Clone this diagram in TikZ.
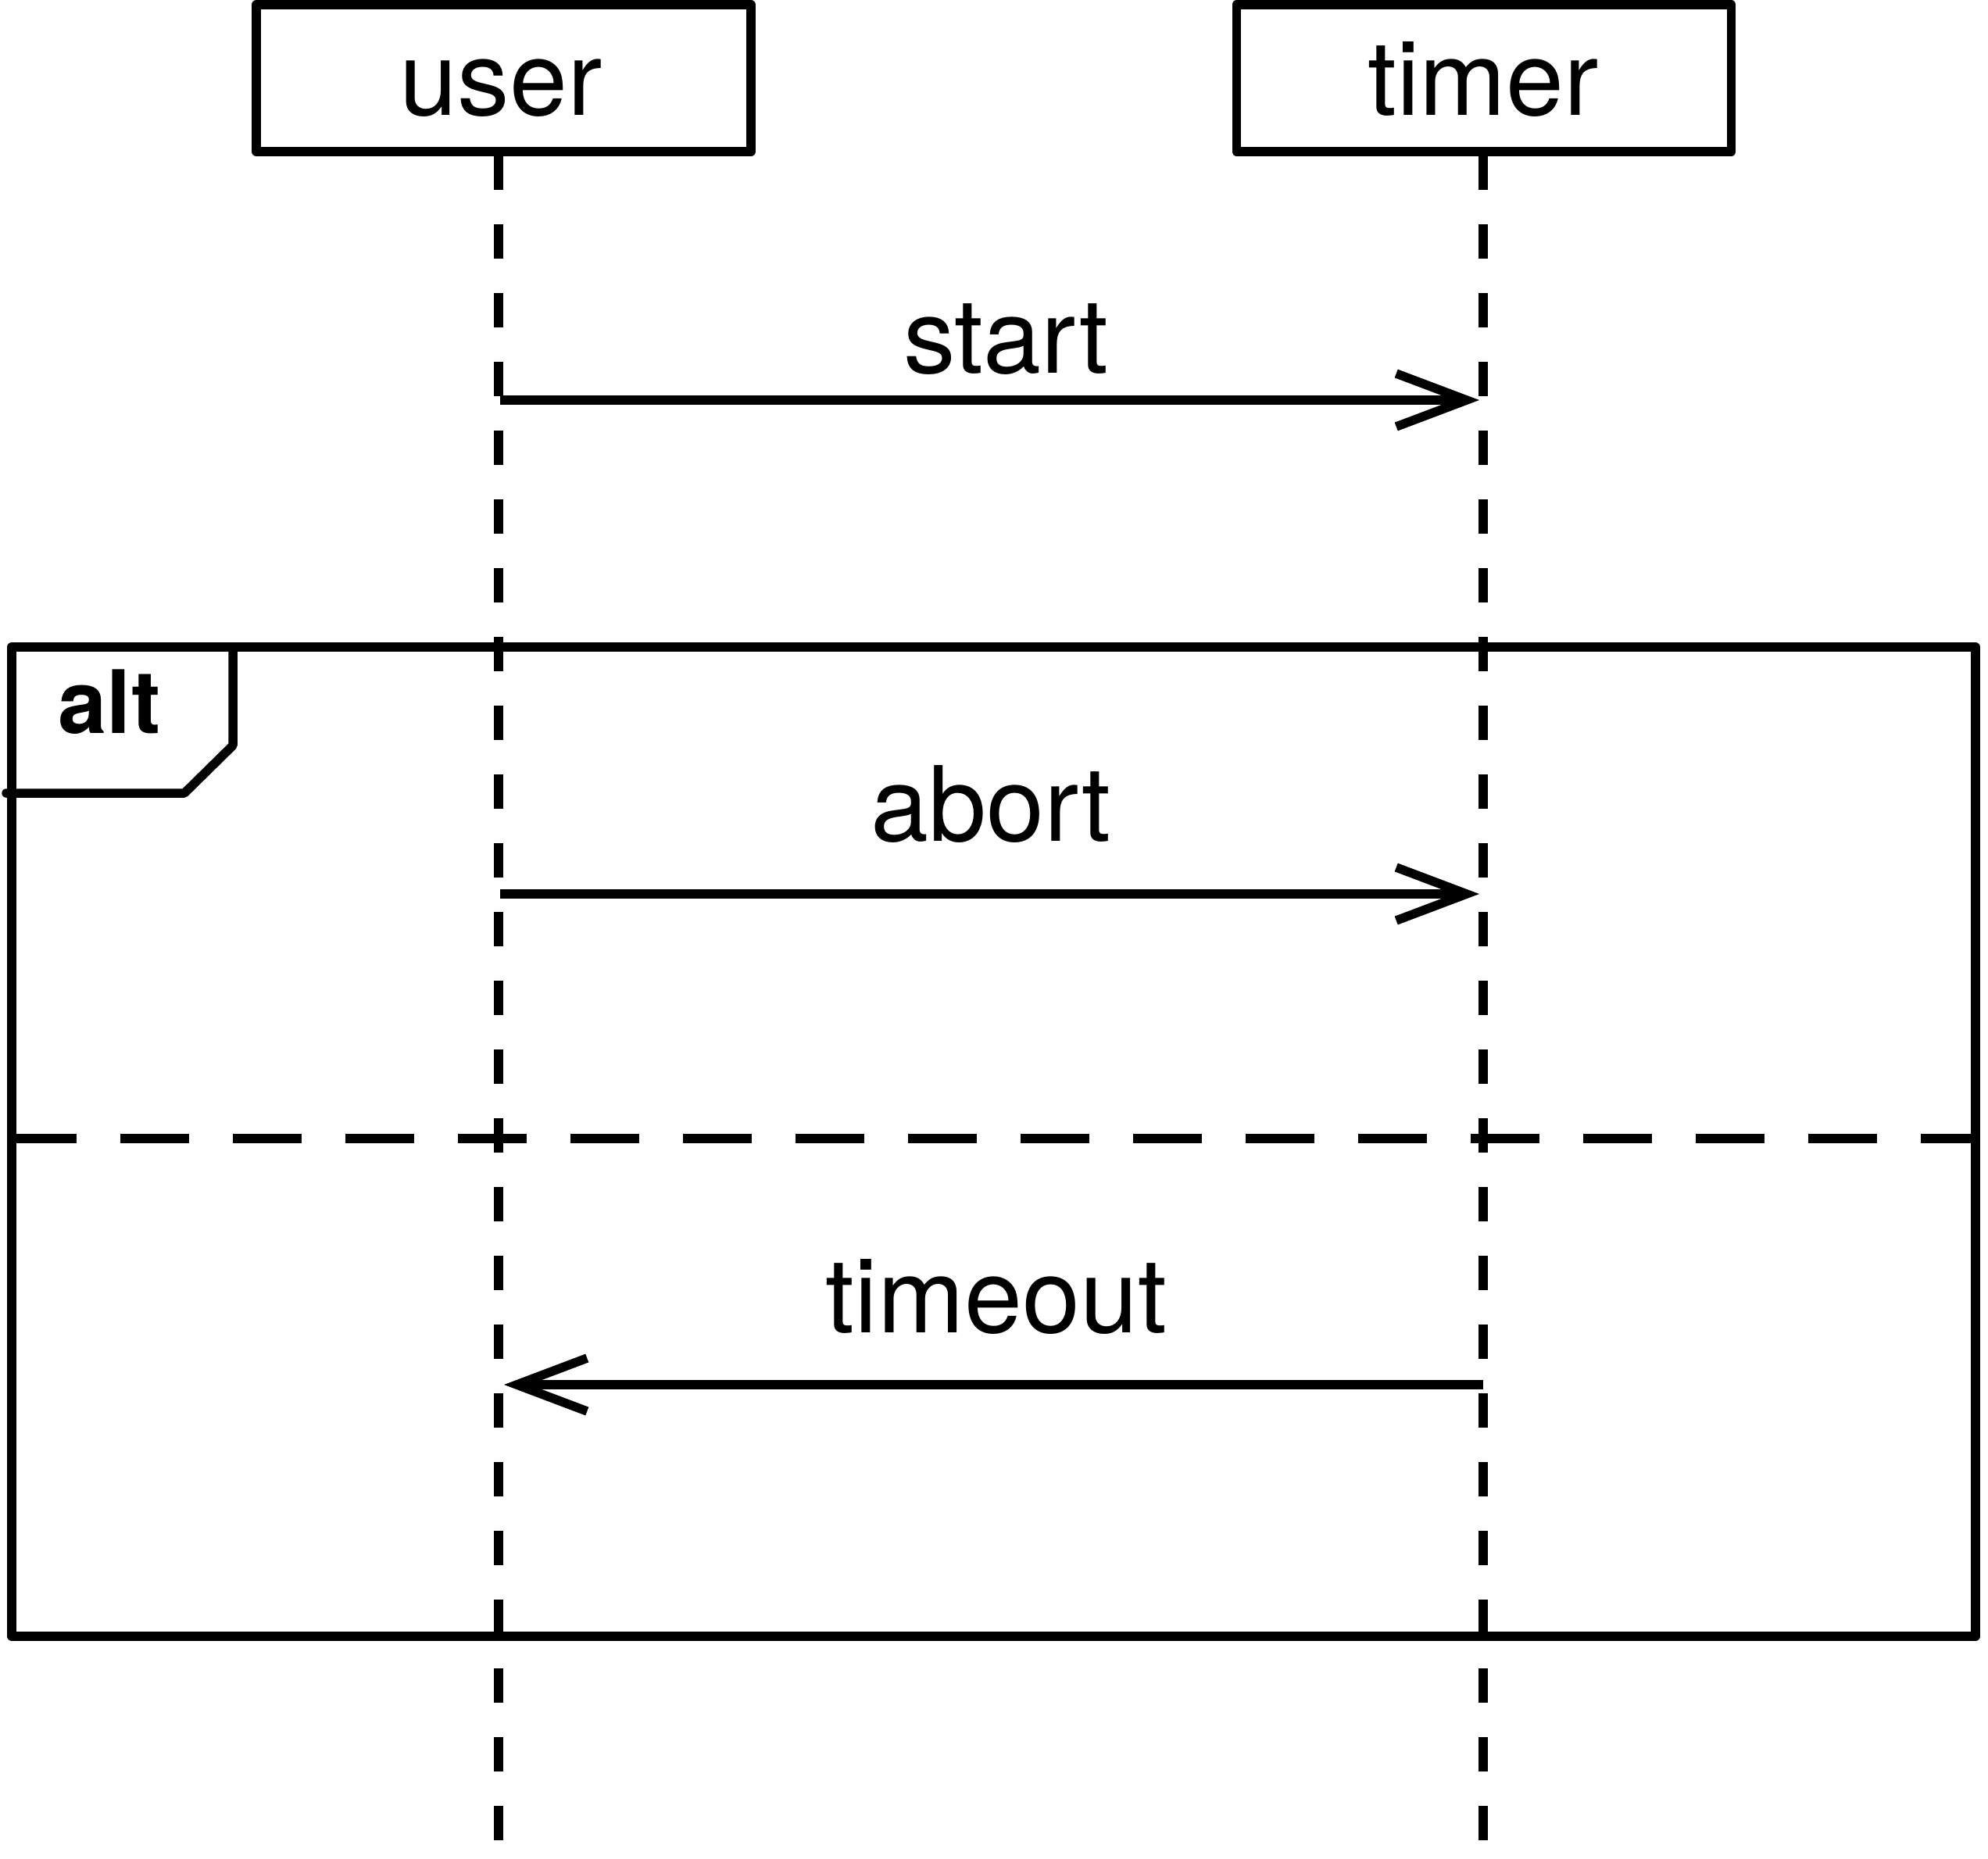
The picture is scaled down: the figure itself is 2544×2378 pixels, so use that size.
\documentclass[tikz,border=0pt]{standalone}
\usepackage{fontspec}
\setmainfont{TeX Gyre Heros}
\usetikzlibrary{arrows.meta}
\tikzset{
  lw/.style={line width=11.5pt},
  actor/.style={lw, draw, rectangle, line join=round, minimum width=633pt, minimum height=188pt, inner sep=0pt},
  lifeline/.style={lw, dash pattern=on 44pt off 44pt},
  msg/.style={lw, -{Straight Barb[length=90pt,width=68pt,line width=11.5pt]}},
  lbl/.style={anchor=base, inner sep=0pt, font=\fontsize{133}{160}\selectfont},
  frameline/.style={lw, line join=round},
  sep/.style={lw, dash pattern=on 88pt off 56pt}
}
\begin{document}
\begin{tikzpicture}[x=1pt,y=-1pt]
\useasboundingbox (0,0) rectangle (2544,2378);
% actors
\node[actor] (user) at (644.5,100) {};
\node[actor] (timer) at (1899,100) {};
\node[lbl] (userlbl) at (641,147) {user};
\node[lbl] (timerlbl) at (1898,147) {timer};
% lifelines
\coordinate (uTop) at (638,199);
\coordinate (uBot) at (638,2378);
\coordinate (tTop) at (1898,199);
\coordinate (tBot) at (1898,2378);
\draw[lifeline] (uTop) -- (uBot);
\draw[lifeline] (tTop) -- (tBot);
% alt frame
\coordinate (fTL) at (15,828);
\coordinate (fBR) at (2528,2094);
\draw[frameline] (fTL) rectangle (fBR);
\coordinate (tabA) at (298,828);
\coordinate (tabB) at (298,954);
\coordinate (tabC) at (236,1015);
\coordinate (tabD) at (8,1015);
\draw[frameline, line cap=round] (tabA) -- (tabB) -- (tabC) -- (tabD);
\node[anchor=base, inner sep=0pt, font=\fontsize{112}{134}\selectfont\bfseries] (altlbl) at (140,938) {alt};
\coordinate (sepL) at (10,1457);
\coordinate (sepR) at (2528,1457);
\draw[sep] (sepL) -- (sepR);
% messages
\coordinate (m1s) at (640,512);
\coordinate (m1e) at (1893,512);
\draw[msg] (m1s) -- (m1e);
\node[lbl] (m1lbl) at (1287,477) {start};
\coordinate (m2s) at (640,1144);
\coordinate (m2e) at (1893,1144);
\draw[msg] (m2s) -- (m2e);
\node[lbl] (m2lbl) at (1268,1076) {abort};
\coordinate (m3s) at (1898,1772);
\coordinate (m3e) at (645,1772);
\draw[msg] (m3s) -- (m3e);
\node[lbl] (m3lbl) at (1275,1705) {timeout};
\end{tikzpicture}
\end{document}
